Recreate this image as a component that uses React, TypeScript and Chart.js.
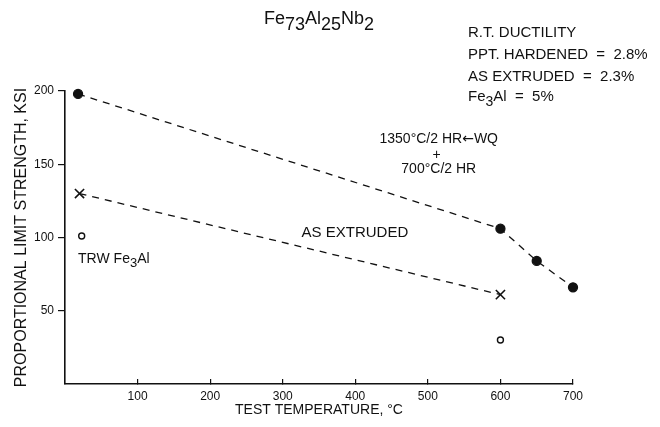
import React, { useEffect, useRef } from "react";
import { Chart, registerables } from "chart.js";

Chart.register(...registerables);

const hardenedTemps = [18, 600, 650, 700];
const hardenedKsi = [198, 106, 84, 66];
const extrudedTemps = [20, 600];
const extrudedKsi = [130, 61];
const trwTemps = [23, 600];
const trwKsi = [101, 30];

const xMin = 0;
const xMax = 700;
const xStep = 100;
const yMin = 0;
const yMax = 200;
const yStep = 50;

const FONT = "'Liberation Sans', Arial, Helvetica, sans-serif";
const ARROW_FONT = "'DejaVu Sans', sans-serif";

type Part = [string, number, number, string?]; // text, size, baseline shift, font

const titleParts: Part[] = [
  ["Fe", 18, 0],
  ["73", 18, 6],
  ["Al", 18, 0],
  ["25", 18, 6],
  ["Nb", 18, 0],
  ["2", 18, 6],
];

const ductilityLines: Part[][] = [
  [["R.T. DUCTILITY", 15, 0]],
  [["PPT. HARDENED  =  2.8%", 15, 0]],
  [["AS EXTRUDED  =  2.3%", 15, 0]],
  [["Fe", 15, 0], ["3", 14, 5], ["Al  =  5%", 15, 0]],
];

function drawRich(ctx: CanvasRenderingContext2D, parts: Part[], x: number, y: number, align: "left" | "center") {
  const widths = parts.map(([t, size, _s, f]) => {
    ctx.font = `${size}px ${f || FONT}`;
    return ctx.measureText(t).width;
  });
  const total = widths.reduce((a, b) => a + b, 0);
  let cx = align === "center" ? x - total / 2 : x;
  ctx.textAlign = "left";
  ctx.textBaseline = "alphabetic";
  parts.forEach(([t, size, shift, f], i) => {
    ctx.font = `${size}px ${f || FONT}`;
    ctx.fillText(t, cx, y + shift);
    cx += widths[i];
  });
}

const textPlugin = {
  id: "texts",
  afterDraw(chart: any) {
    const ctx: CanvasRenderingContext2D = chart.ctx;
    const xs = chart.scales.x;
    const ys = chart.scales.y;
    ctx.save();
    ctx.fillStyle = "#111";
    drawRich(ctx, titleParts, 319, 24, "center");
    const baselines = [37, 59, 81, 101];
    ductilityLines.forEach((parts, i) => drawRich(ctx, parts, 468, baselines[i], "left"));

    drawRich(
      ctx,
      [["1350°C/2 HR", 14, 0], ["\u2190", 14, 0, ARROW_FONT], ["WQ", 14, 0]],
      xs.getPixelForValue(515),
      ys.getPixelForValue(164.5),
      "center"
    );
    ctx.font = `14px ${FONT}`;
    ctx.textAlign = "center";
    ctx.textBaseline = "alphabetic";
    ctx.fillText("+", xs.getPixelForValue(512), ys.getPixelForValue(153.5));
    ctx.fillText("700°C/2 HR", xs.getPixelForValue(515), ys.getPixelForValue(144));
    ctx.font = `15px ${FONT}`;
    ctx.textAlign = "left";
    ctx.fillText("AS EXTRUDED", xs.getPixelForValue(326), ys.getPixelForValue(100.5));
    drawRich(
      ctx,
      [["TRW Fe", 14, 0], ["3", 13, 4], ["Al", 14, 0]],
      xs.getPixelForValue(18),
      ys.getPixelForValue(82.5),
      "left"
    );
    ctx.restore();
  },
};

export default function App() {
  const ref = useRef<HTMLCanvasElement | null>(null);
  useEffect(() => {
    if (!ref.current) return;
    const dash = [7, 6];
    const chart = new Chart(ref.current, {
      type: "scatter",
      data: {
        datasets: [
          {
            label: "PPT. HARDENED",
            data: hardenedTemps.map((t, i) => ({ x: t, y: hardenedKsi[i] })),
            showLine: true,
            borderColor: "#111",
            borderWidth: 1.3,
            borderDash: dash,
            pointStyle: "circle",
            pointRadius: 4.5,
            pointBackgroundColor: "#111",
            pointBorderColor: "#111",
            clip: false,
          },
          {
            label: "AS EXTRUDED",
            data: extrudedTemps.map((t, i) => ({ x: t, y: extrudedKsi[i] })),
            showLine: true,
            borderColor: "#111",
            borderWidth: 1.3,
            borderDash: dash,
            pointStyle: "crossRot",
            pointRadius: 6.5,
            pointBorderWidth: 1.6,
            pointBorderColor: "#111",
            clip: false,
          },
          {
            label: "TRW Fe3Al",
            data: trwTemps.map((t, i) => ({ x: t, y: trwKsi[i] })),
            showLine: false,
            pointStyle: "circle",
            pointRadius: 3,
            pointBorderWidth: 1.4,
            pointBackgroundColor: "#fff",
            pointBorderColor: "#111",
            clip: false,
          },
        ] as any,
      },
      options: {
        responsive: false,
        animation: false,
        layout: { padding: { top: 91, right: 87, left: 0, bottom: 0 } },
        plugins: {
          legend: { display: false },
          tooltip: { enabled: false },
          title: { display: false },
        },
        scales: {
          x: {
            type: "linear",
            min: xMin,
            max: xMax,
            afterFit: (s: any) => {
              s.height = 43;
            },
            border: { display: true, color: "#111", width: 1.6 },
            grid: {
              drawOnChartArea: false,
              drawTicks: true,
              tickLength: -5,
              color: (c: any) => (c.tick && c.tick.value === 0 ? "rgba(0,0,0,0)" : "#111"),
              lineWidth: 1.2,
            },
            ticks: {
              stepSize: xStep,
              padding: 10,
              color: "#111",
              font: { family: FONT, size: 12 },
              callback: (v: any) => (v === 0 ? "" : String(v)),
              maxRotation: 0,
            },
            title: {
              display: true,
              text: "TEST TEMPERATURE, °C",
              color: "#111",
              font: { family: FONT, size: 14 },
              padding: { top: 0, bottom: 8 },
            },
          },
          y: {
            type: "linear",
            min: yMin,
            max: yMax,
            afterFit: (s: any) => {
              s.width = 65;
            },
            border: { display: true, color: "#111", width: 1.6 },
            grid: {
              drawOnChartArea: false,
              drawTicks: true,
              tickLength: 7,
              color: (c: any) => (c.tick && c.tick.value === 0 ? "rgba(0,0,0,0)" : "#111"),
              lineWidth: 1.2,
            },
            ticks: {
              stepSize: yStep,
              padding: 4,
              color: "#111",
              font: { family: FONT, size: 12 },
              callback: (v: any) => (v === 0 ? "" : String(v)),
            },
            title: {
              display: true,
              text: "PROPORTIONAL LIMIT STRENGTH, KSI",
              color: "#111",
              font: { family: FONT, size: 16 },
              padding: { top: 12, bottom: 0 },
            },
          },
        },
      } as any,
      plugins: [textPlugin],
    });
    return () => chart.destroy();
  }, []);
  return (
    <div style={{ position: "absolute", left: 0, top: 0, width: 660, height: 427, background: "#fff" }}>
      <canvas ref={ref} width={660} height={427} style={{ display: "block" }} />
    </div>
  );
}
